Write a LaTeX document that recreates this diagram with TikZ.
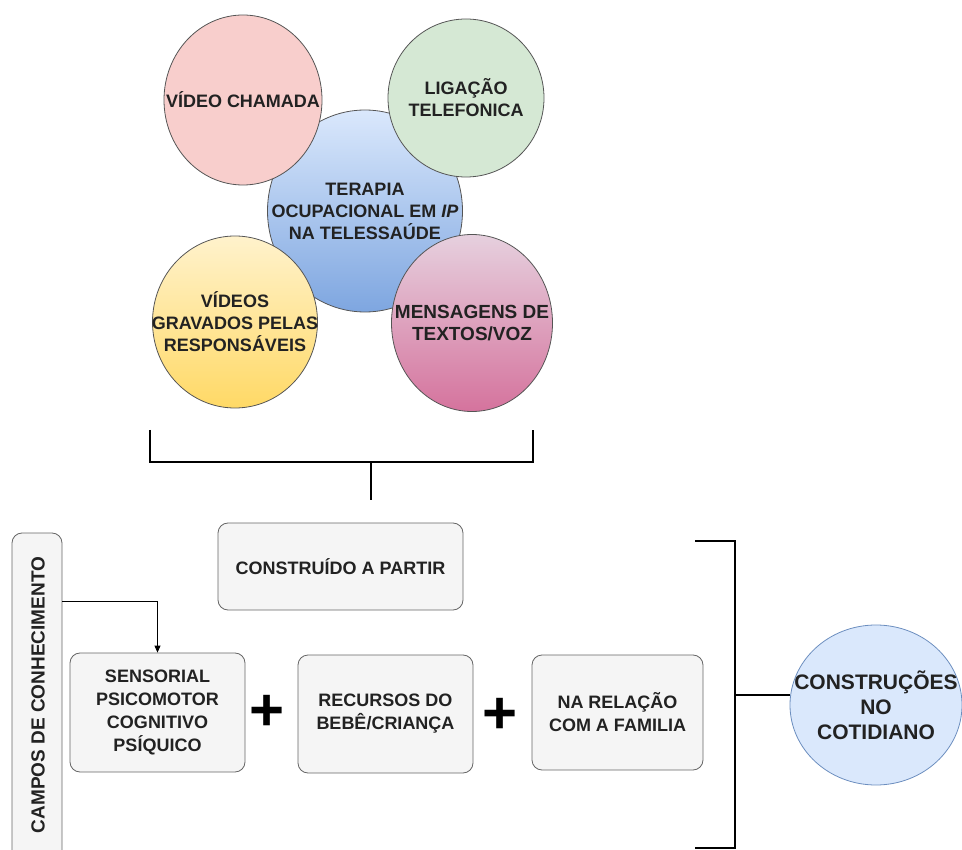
\documentclass[tikz,border=0pt]{standalone}
\usepackage{fontspec}
\setmainfont{Liberation Sans}
\usetikzlibrary{shapes.geometric,arrows.meta}
\definecolor{pinkf}{HTML}{F8CECC}
\definecolor{greenf}{HTML}{D5E8D4}
\definecolor{bluetop}{HTML}{DAE8FC}
\definecolor{bluebot}{HTML}{7EA6E0}
\definecolor{yeltop}{HTML}{FFF2CC}
\definecolor{yelbot}{HTML}{FFD966}
\definecolor{magtop}{HTML}{E6D0DE}
\definecolor{magbot}{HTML}{D5739D}
\definecolor{boxfill}{HTML}{F5F5F5}
\definecolor{boxline}{HTML}{666666}
\definecolor{circline}{HTML}{555555}
\definecolor{cotline}{HTML}{6C8EBF}
\definecolor{txt}{HTML}{222222}
\begin{document}
\begin{tikzpicture}[x=1pt,y=-1pt,
  circ/.style={ellipse,draw=circline,line width=0.8pt,inner sep=0pt},
  lbl/.style={align=center,inner sep=0pt,font=\fontsize{18}{22}\selectfont\bfseries,text=txt},
  gbox/.style={rounded corners=10pt,draw=boxline,fill=boxfill,line width=0.8pt,inner sep=0pt,
    align=center,font=\fontsize{18}{23}\selectfont\bfseries,text=txt},
  brk/.style={line width=2pt,black},
  plussign/.style={font=\fontsize{60}{60}\selectfont\bfseries,inner sep=0pt}]
\useasboundingbox (0,0) rectangle (962,850);
\clip (0,0) rectangle (962,850);

% top circles
\node[circ,top color=bluetop,bottom color=bluebot,minimum width=195pt,minimum height=202pt,
  label={[lbl]center:TERAPIA\\OCUPACIONAL EM \textit{IP}\\NA TELESSAÚDE}] (tera) at (365,211) {};
\node[circ,fill=pinkf,minimum width=158pt,minimum height=170pt,
  label={[lbl]center:VÍDEO CHAMADA}] (video) at (243,100) {};
\node[circ,fill=greenf,minimum width=156pt,minimum height=158pt,
  label={[lbl]center:LIGAÇÃO\\TELEFONICA}] (lig) at (466,98) {};
\node[circ,top color=yeltop,bottom color=yelbot,minimum width=165pt,minimum height=172pt,
  label={[lbl]center:VÍDEOS\\GRAVADOS PELAS\\RESPONSÁVEIS}] (grav) at (235,322) {};
\node[circ,top color=magtop,bottom color=magbot,minimum width=161pt,minimum height=177pt,
  label={[lbl,font=\fontsize{19}{22}\selectfont\bfseries]center:MENSAGENS DE\\TEXTOS/VOZ}] (msg) at (472,323) {};

% top bracket
\coordinate (b1) at (150,430);
\coordinate (b2) at (533,430);
\coordinate (bm) at (371,462);
\coordinate (bt) at (371,500);
\draw[brk] (b1) -- (b1 |- bm) -- (b2 |- bm) -- (b2);
\draw[brk] (bm) -- (bt);

% lower boxes
\node[gbox,minimum width=245pt,minimum height=87pt] (constr) at (340.5,566.5) {CONSTRUÍDO A PARTIR};
\node[gbox,minimum width=50pt,minimum height=330pt] (campos) at (37,698) {};
\node[rotate=90,inner sep=0pt,font=\fontsize{19}{20}\selectfont\bfseries,text=txt] (campostxt) at (38,695) {CAMPOS DE CONHECIMENTO};
\node[gbox,minimum width=175pt,minimum height=119pt] (sens) at (157.5,712.5) {SENSORIAL\\PSICOMOTOR\\COGNITIVO\\PSÍQUICO};
\node[gbox,minimum width=175pt,minimum height=118pt] (rec) at (385.5,714) {RECURSOS DO\\BEBÊ/CRIANÇA};
\node[gbox,minimum width=171pt,minimum height=115pt] (fam) at (617.5,712.5) {NA RELAÇÃO\\COM A FAMILIA};
\node[plussign] (p1) at (267.5,713) {+};
\node[plussign] (p2) at (500,716) {+};

\coordinate (ay) at (0,601);
\draw[line width=0.9pt,-{Triangle[length=7pt,width=6pt]}] (campos.east |- ay) -| (sens.north);

% right bracket
\coordinate (r1) at (695,541);
\coordinate (r2) at (695,848);
\coordinate (rx) at (735,695);
\draw[brk] (r1) -- (r1 -| rx) -- (r2 -| rx) -- (r2);
\node[circ,fill=bluetop,draw=cotline,minimum width=172pt,minimum height=160pt,
  label={[lbl,font=\fontsize{21}{25}\selectfont\bfseries]center:CONSTRUÇÕES\\NO\\COTIDIANO}] (cot) at (876,705) {};
\draw[brk] (rx) -- (rx -| cot.west);
\end{tikzpicture}
\end{document}
